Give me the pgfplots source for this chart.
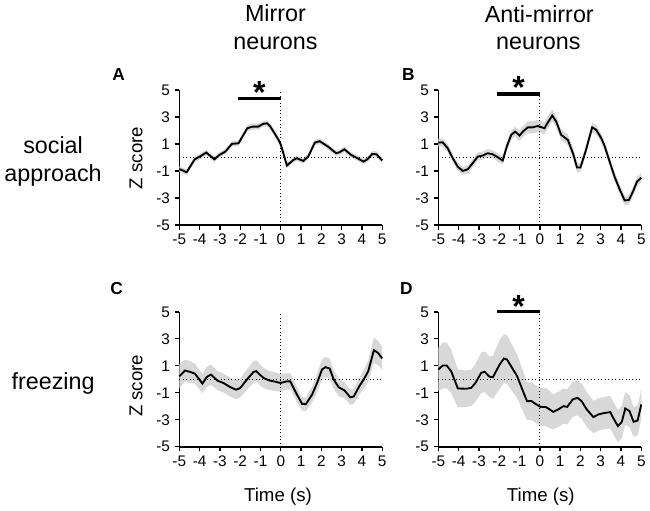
\documentclass[border=0pt]{standalone}
\usepackage{fontspec}
\setmainfont{Liberation Sans}
\usepackage{pgfplots}
\usepackage{pgfplotstable}
\pgfplotsset{compat=1.18}

\pgfplotstableread{
x y e
-5 -0.86 0.2
-4.64 -1.1 0.2
-4.24 -0.14 0.2
-3.95 0.1 0.2
-3.67 0.36 0.2
-3.27 -0.14 0.2
-3.02 0.19 0.2
-2.73 0.43 0.2
-2.41 1.0 0.2
-2.08 1.05 0.2
-1.65 2.16 0.22
-1.40 2.28 0.22
-1.11 2.28 0.22
-0.88 2.48 0.22
-0.67 2.53 0.22
-0.51 2.28 0.22
-0.11 1.3 0.22
0.0 0.95 0.22
0.15 0.2 0.2
0.30 -0.6 0.2
0.62 -0.19 0.2
0.79 -0.06 0.2
1.11 -0.26 0.2
1.35 0.06 0.2
1.68 1.1 0.22
1.92 1.2 0.22
2.33 0.80 0.2
2.73 0.31 0.2
2.89 0.38 0.2
3.14 0.6 0.2
3.46 0.19 0.2
3.78 -0.06 0.2
4.08 -0.31 0.2
4.27 -0.14 0.2
4.51 0.26 0.22
4.72 0.23 0.22
5.0 -0.23 0.22
}\dataA

\pgfplotstableread{
x y e
-5 1.1 0.3
-4.79 1.12 0.3
-4.54 0.68 0.3
-4.29 -0.06 0.3
-4.05 -0.68 0.3
-3.80 -1.0 0.3
-3.55 -0.88 0.3
-3.31 -0.43 0.3
-3.06 0.06 0.3
-2.81 0.14 0.3
-2.57 0.31 0.3
-2.32 0.23 0.3
-2.07 0.01 0.3
-1.83 -0.23 0.3
-1.63 0.80 0.35
-1.41 1.67 0.35
-1.22 1.91 0.35
-1.0 1.62 0.4
-0.84 1.91 0.4
-0.59 2.23 0.45
-0.35 2.23 0.45
-0.10 2.33 0.45
0.23 2.16 0.45
0.39 2.58 0.45
0.61 3.10 0.45
0.81 2.65 0.4
1.05 1.67 0.4
1.38 1.3 0.4
1.66 0.19 0.4
1.83 -0.75 0.35
2.0 -0.75 0.35
2.25 0.43 0.35
2.58 2.23 0.35
2.78 2.04 0.35
3.03 1.42 0.35
3.19 0.85 0.35
3.44 -0.31 0.35
3.68 -1.42 0.35
3.93 -2.35 0.35
4.18 -3.19 0.35
4.39 -3.15 0.35
4.59 -2.53 0.35
4.79 -1.79 0.35
5.0 -1.5 0.35
}\dataB

\pgfplotstableread{
x y e
-5 0.22 0.9
-4.72 0.65 0.8
-4.47 0.55 0.8
-4.23 0.42 0.75
-3.86 -0.32 0.7
-3.65 0.17 0.75
-3.44 0.35 0.75
-3.12 -0.10 0.7
-2.83 -0.27 0.7
-2.5 -0.57 0.7
-2.2 -0.77 0.7
-2.0 -0.65 0.7
-1.67 -0.02 0.75
-1.34 0.55 0.8
-1.21 0.6 0.8
-0.85 0.1 0.75
-0.6 -0.07 0.7
-0.35 -0.15 0.7
-0.02 -0.27 0.65
0.30 -0.15 0.6
0.47 -0.15 0.6
0.80 -1.14 0.55
1.05 -1.82 0.5
1.24 -1.84 0.5
1.54 -1.14 0.6
1.79 -0.27 0.7
2.03 0.72 0.75
2.20 0.9 0.75
2.41 0.8 0.75
2.61 -0.02 0.7
2.86 -0.6 0.65
3.14 -0.82 0.6
3.43 -1.34 0.55
3.6 -1.27 0.55
3.85 -0.57 0.6
4.13 0.1 0.7
4.31 0.6 0.8
4.59 2.16 0.95
4.79 1.96 0.9
5.0 1.55 0.85
}\dataC

\pgfplotstableread{
x y e
-5 0.73 1.6
-4.79 1.02 1.7
-4.59 1.02 1.7
-4.37 0.6 1.6
-4.04 -0.68 1.4
-3.63 -0.70 1.35
-3.38 -0.63 1.35
-3.17 -0.26 1.4
-2.89 0.48 1.5
-2.72 0.56 1.5
-2.48 0.19 1.5
-2.31 0.16 1.6
-1.98 1.1 1.8
-1.77 1.54 1.8
-1.62 1.47 1.8
-1.32 0.73 1.7
-1.12 0.23 1.6
-0.83 -0.88 1.5
-0.63 -1.62 1.4
-0.41 -1.62 1.4
-0.17 -1.86 1.4
0.03 -2.04 1.4
0.30 -2.06 1.4
0.41 -2.16 1.4
0.66 -2.41 1.3
0.91 -2.23 1.3
1.16 -1.99 1.3
1.35 -2.04 1.3
1.62 -1.49 1.3
1.85 -1.37 1.3
2.06 -1.62 1.3
2.31 -2.23 1.3
2.64 -2.80 1.2
2.89 -2.60 1.2
3.14 -2.51 1.2
3.47 -2.43 1.2
3.63 -2.90 1.2
3.85 -3.47 1.2
4.04 -3.15 1.2
4.21 -2.16 1.2
4.42 -2.36 1.2
4.62 -3.15 1.1
4.82 -3.05 1.1
5.0 -1.86 1.1
}\dataD

\definecolor{bandgray}{HTML}{D8D8D8}

\pgfplotsset{
  panel/.style={
    scale only axis, width=152.25pt, height=101.25pt,
    anchor=south west,
    xmin=-5, xmax=5, ymin=-5, ymax=5,
    axis lines=left,
    axis line style={line width=1.2pt, -},
    xtick={-5,-4,-3,-2,-1,0,1,2,3,4,5},
    xticklabels={-5,-4,-3,-2,-1,0,1,2,3,4,5},
    ytick={-5,-3,-1,1,3,5},
    yticklabels={-5,-3,-1,1,3,5},
    tick align=outside,
    major tick length=3.5pt,
    tick style={black, line width=1pt},
    tick label style={font=\fontsize{11.5}{12}\selectfont},
    clip=false,
  }
}

\newcommand{\band}[1]{%
  \addplot[draw=none, stack plots=y, forget plot] table[x=x, y expr=\thisrow{y}-\thisrow{e}] {#1};
  \addplot[draw=none, fill=bandgray, stack plots=y, forget plot] table[x=x, y expr=2*\thisrow{e}] {#1} \closedcycle;
}

\begin{document}
\begin{tikzpicture}

% Panel A
\begin{axis}[panel, at={(134.475pt,213.75pt)}]
\band{\dataA}
\addplot[black, dotted, line width=0.6pt] coordinates {(-5,0) (5,0)};
\addplot[black, line width=1.4pt] table[x=x, y=y] {\dataA};
\addplot[black, dotted, line width=0.6pt] coordinates {(0,-5) (0,5)};
\addplot[black, line width=2.3pt] coordinates {(-2.1,4.36) (0,4.36)};
\node[font=\bfseries\fontsize{24}{24}\selectfont, anchor=base] at (axis cs:-1.05,4.0) {*};
\end{axis}

% Panel B
\begin{axis}[panel, at={(328.875pt,213.75pt)}]
\band{\dataB}
\addplot[black, dotted, line width=0.6pt] coordinates {(-5,0) (5,0)};
\addplot[black, line width=1.4pt] table[x=x, y=y] {\dataB};
\addplot[black, dotted, line width=0.6pt] coordinates {(0,-5) (0,4.7)};
\addplot[black, line width=2.3pt] coordinates {(-2.1,4.7) (0,4.7)};
\node[font=\bfseries\fontsize{24}{24}\selectfont, anchor=base] at (axis cs:-1.05,4.35) {*};
\end{axis}

% Panel C
\begin{axis}[panel, at={(134.475pt,47.25pt)}]
\band{\dataC}
\addplot[black, dotted, line width=0.6pt] coordinates {(-5,0) (5,0)};
\addplot[black, line width=1.4pt] table[x=x, y=y] {\dataC};
\addplot[black, dotted, line width=0.6pt] coordinates {(0,-5) (0,5)};
\end{axis}

% Panel D
\begin{axis}[panel, at={(328.875pt,47.25pt)}]
\band{\dataD}
\addplot[black, dotted, line width=0.6pt] coordinates {(-5,0) (5,0)};
\addplot[black, line width=1.4pt] table[x=x, y=y] {\dataD};
\addplot[black, dotted, line width=0.6pt] coordinates {(0,-5) (0,5)};
\addplot[black, line width=2.3pt] coordinates {(-2.1,5.0) (0,5.0)};
\node[font=\bfseries\fontsize{24}{24}\selectfont, anchor=base] at (axis cs:-1.05,4.6) {*};
\end{axis}

\begin{scope}[x=0.75pt, y=0.75pt]
\def\tf{\fontsize{17.5}{18}\selectfont}
\node[font=\tf, anchor=base] at (275.5,488.3) {Mirror};
\node[font=\tf, anchor=base] at (275.5,460) {neurons};
\node[font=\tf, anchor=base] at (539.5,487.3) {Anti-mirror};
\node[font=\tf, anchor=base] at (538.5,460) {neurons};

\node[font=\tf, anchor=base] at (53,356) {social};
\node[font=\tf, anchor=base] at (53,328.3) {approach};
\node[font=\tf, anchor=base] at (53,120) {freezing};

\def\lf{\bfseries\fontsize{13}{13}\selectfont}
\node[font=\lf, anchor=base west, inner sep=0pt] at (112,429) {A};
\node[font=\lf, anchor=base west, inner sep=0pt] at (402,429) {B};
\node[font=\lf, anchor=base west, inner sep=0pt] at (110,215) {C};
\node[font=\lf, anchor=base west, inner sep=0pt] at (400,215) {D};

\def\af{\fontsize{14}{14}\selectfont}
\node[font=\af, rotate=90] at (136,352) {Z score};
\node[font=\af, rotate=90] at (136,124) {Z score};

\node[font=\af, anchor=base] at (278,8) {Time (s)};
\node[font=\af, anchor=base] at (541,8) {Time (s)};

\path (0,0) rectangle (650,510);
\end{scope}
\end{tikzpicture}
\end{document}
